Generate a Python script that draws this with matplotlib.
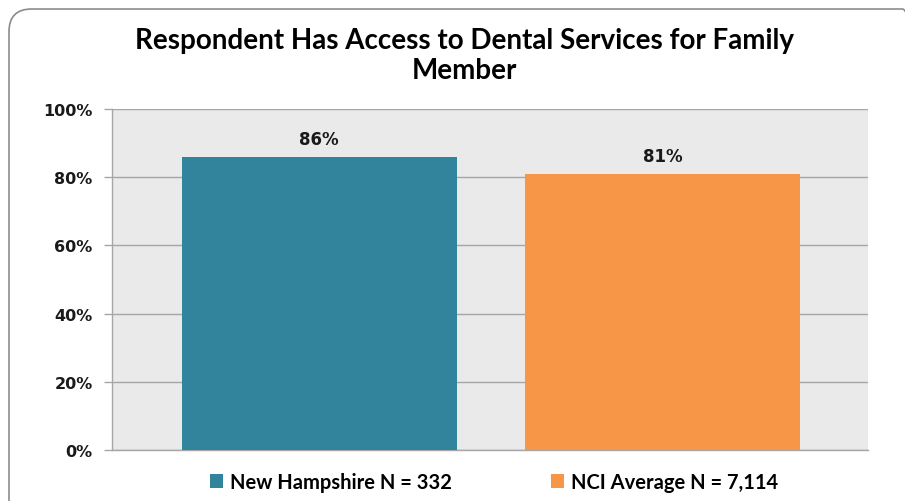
import matplotlib
matplotlib.use("Agg")
import matplotlib.pyplot as plt
from matplotlib.patches import FancyBboxPatch, Patch
from matplotlib.ticker import FuncFormatter

# Data
series = ["New Hampshire N = 332", "NCI Average N = 7,114"]
values = [86, 81]
colors = ["#31849B", "#F79646"]
yticks = [0, 20, 40, 60, 80, 100]

TITLE_FONT = ["Lato", "DejaVu Sans"]
TICK_FONT = ["DejaVu Sans"]

fig = plt.figure(figsize=(9.05, 5.02), dpi=100)
fig.patch.set_facecolor("white")

# rounded chart frame (runs off the right and bottom edges)
frame = FancyBboxPatch(
    (9 / 905, -0.05), (925 - 9) / 905, 1 - 10 / 502 + 0.05,
    boxstyle="round,pad=0,rounding_size=0.025",
    transform=fig.transFigure, facecolor="none",
    edgecolor="#8C8C8C", linewidth=1.2, mutation_aspect=905 / 502,
)
fig.patches.append(frame)

ax = fig.add_axes([112 / 905, 1 - 451 / 502, (868 - 112) / 905, (451 - 110) / 502])
ax.set_facecolor("#EAEAEA")

x = list(range(len(values)))
ax.bar(x, values, width=0.8, color=colors, zorder=3)

for xi, v in zip(x, values):
    ax.text(xi, v + 2.5, f"{v}%", ha="center", va="bottom",
            fontsize=12, fontweight="bold", family=TICK_FONT, color="#1a1a1a")

ax.set_ylim(0, 100)
ax.set_xlim(-0.603, 1.598)
ax.set_yticks(yticks)
ax.yaxis.set_major_formatter(FuncFormatter(lambda v, _: f"{v:.0f}%"))
ax.set_xticks([])
ax.grid(axis="y", color="#A6A6A6", linewidth=1.0, zorder=1)
ax.set_axisbelow(True)

for side in ("top", "right"):
    ax.spines[side].set_visible(False)
for side in ("left", "bottom"):
    ax.spines[side].set_color("#A6A6A6")
    ax.spines[side].set_linewidth(1.0)
ax.tick_params(axis="y", length=6, width=1.0, color="#A6A6A6", pad=8)
for lbl in ax.get_yticklabels():
    lbl.set_fontsize(11.5)
    lbl.set_fontweight("bold")
    lbl.set_family(TICK_FONT)
    lbl.set_color("#1a1a1a")

fig.text(464 / 905, 1 - 56 / 502, "Respondent Has Access to Dental Services for Family\nMember",
         ha="center", va="center", fontsize=20, fontweight="bold",
         family=TITLE_FONT, linespacing=1.15)

handles = [Patch(facecolor=c, edgecolor="none") for c in colors]
fig.legend(handles, series, loc="center", bbox_to_anchor=(494 / 905, 1 - 483 / 502),
           ncol=2, frameon=False, handlelength=0.65, handleheight=0.65,
           handletextpad=0.35, columnspacing=4.9,
           prop={"family": TITLE_FONT, "weight": "bold", "size": 14.5})

fig.savefig("out.png", dpi=100, facecolor="white")
